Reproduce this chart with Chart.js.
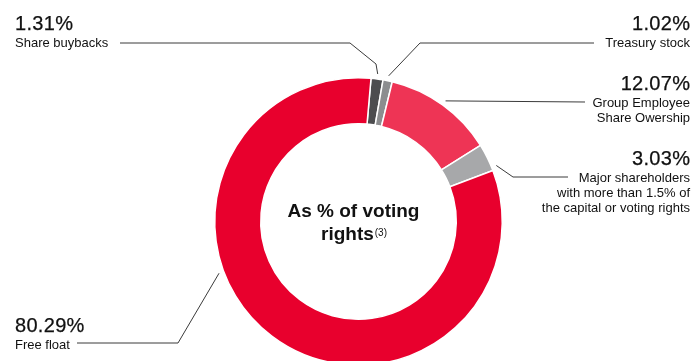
<!DOCTYPE html>
<html>
<head>
<meta charset="utf-8">
<script src="https://cdn.jsdelivr.net/npm/chart.js@4"></script>
<style>
  html, body { margin: 0; padding: 0; background: #fff; overflow: hidden; }
  #wrap { width: 691px; height: 361px; overflow: hidden; }
</style>
</head>
<body>
<div id="wrap"><canvas id="pie" width="691" height="443"></canvas></div>
<script>
const categories = ["Share buybacks", "Treasury stock", "Group Employee Share Owership",
  "Major shareholders with more than 1.5% of the capital or voting rights", "Free float"];
const shares = [1.31, 1.02, 12.07, 3.03, 80.29];
const colors = ["#4d4d4f", "#8c8d8f", "#ee3455", "#a7a8aa", "#e8002d"];

// where each callout sits (text lines, elbow points, fraction along the arc)
const callouts = [
  { x: 15, y: 30, align: "left", lines: ["Share buybacks"], path: [[120, 43], [350, 43], [376, 64]], t: 0.5 },
  { x: 690, y: 30, align: "right", lines: ["Treasury stock"], path: [[594, 43], [420, 43]], t: 0.5 },
  { x: 690, y: 90, align: "right", lines: ["Group Employee", "Share Owership"], path: [[585, 102]], t: 0.5 },
  { x: 690, y: 165, align: "right", lines: ["Major shareholders", "with more than 1.5% of", "the capital or voting rights"], path: [[568, 177], [513, 177]], t: 0.88 },
  { x: 15, y: 332, align: "left", lines: ["Free float"], path: [[77, 343], [178, 343]], t: 0.61 }
];

const calloutPlugin = {
  id: "callouts",
  afterDraw(chart) {
    const ctx = chart.ctx;
    const arcs = chart.getDatasetMeta(0).data;
    ctx.save();
    callouts.forEach((c, i) => {
      const arc = arcs[i];
      const a = arc.startAngle + c.t * (arc.endAngle - arc.startAngle);
      const r = arc.outerRadius + 5;
      const ax = arc.x + Math.cos(a) * r;
      const ay = arc.y + Math.sin(a) * r;
      ctx.strokeStyle = "#3a3a3a";
      ctx.lineWidth = 1;
      ctx.beginPath();
      c.path.forEach((p, k) => (k === 0 ? ctx.moveTo(p[0], p[1]) : ctx.lineTo(p[0], p[1])));
      ctx.lineTo(ax, ay);
      ctx.stroke();

      ctx.fillStyle = "#111";
      ctx.strokeStyle = "#111";
      ctx.textAlign = c.align;
      ctx.textBaseline = "alphabetic";
      ctx.font = "20px 'Liberation Sans', Arial, sans-serif";
      ctx.letterSpacing = "0.3px";
      const pct = shares[i].toFixed(2) + "%";
      const px = c.align === "right" ? c.x + 0.3 : c.x;
      ctx.fillText(pct, px, c.y);
      ctx.lineWidth = 0.25;
      ctx.strokeText(pct, px, c.y);
      ctx.letterSpacing = "0px";
      ctx.font = "13px 'Liberation Sans', Arial, sans-serif";
      c.lines.forEach((l, k) => ctx.fillText(l, c.x, c.y + 17 + k * 15));
    });

    // centre title
    const cx = arcs[0].x - 5;
    ctx.fillStyle = "#111";
    ctx.textAlign = "center";
    ctx.font = "bold 19px 'Liberation Sans', Arial, sans-serif";
    ctx.fillText("As % of voting", cx, 217);
    const w1 = ctx.measureText("rights").width;
    ctx.font = "10px 'Liberation Sans', Arial, sans-serif";
    const w2 = ctx.measureText("(3)").width;
    const left = cx - (w1 + w2) / 2;
    ctx.textAlign = "left";
    ctx.font = "bold 19px 'Liberation Sans', Arial, sans-serif";
    ctx.fillText("rights", left, 240);
    ctx.font = "10px 'Liberation Sans', Arial, sans-serif";
    ctx.fillText("(3)", left + w1 + 1, 236);
    ctx.restore();
  }
};

new Chart(document.getElementById("pie").getContext("2d"), {
  type: "doughnut",
  data: {
    labels: categories,
    datasets: [
      {
        data: shares,
        backgroundColor: colors,
        borderColor: "#fff",
        borderWidth: 1.5,
      },
    ],
  },
  options: {
    responsive: false,
    animation: false,
    rotation: 5,
    cutout: "68%",
    layout: { padding: { left: 214, right: 188, top: 77, bottom: 77 } },
    plugins: { legend: { display: false }, tooltip: { enabled: false } },
  },
  plugins: [calloutPlugin],
});
</script>
</body>
</html>
